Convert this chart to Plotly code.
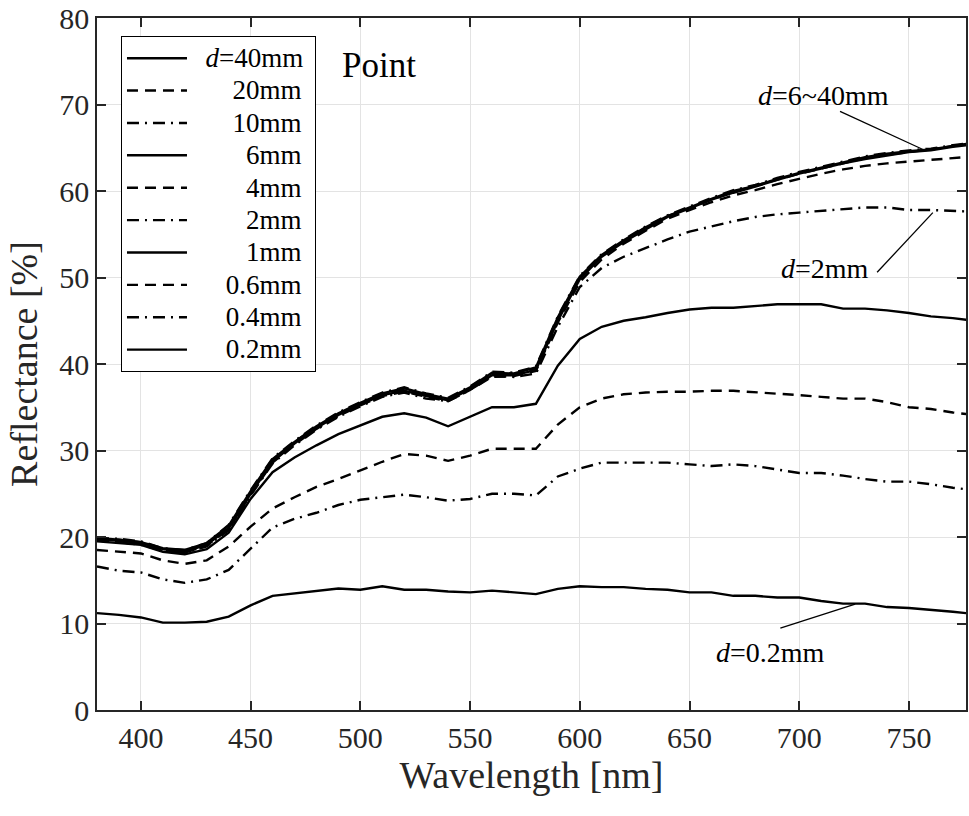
import plotly.graph_objects as go

wavelength = list(range(380, 790, 10))

d40 = [19.9, 19.7, 19.4, 18.7, 18.5, 19.3, 21.3, 25.3, 29.0, 31.0, 32.8, 34.3, 35.5, 36.6, 37.2, 36.5, 36.0, 37.3, 39.0, 38.9,
       39.6, 45.4, 50.1, 52.6, 54.3, 55.8, 57.1, 58.1, 59.1, 60.0, 60.6, 61.4, 62.1, 62.7, 63.3, 63.9, 64.3, 64.6, 64.8, 65.2, 65.6]
d20 = [19.8, 19.7, 19.4, 18.6, 18.4, 19.2, 21.2, 25.1, 28.9, 31.0, 32.7, 34.2, 35.4, 36.5, 37.0, 36.4, 35.9, 37.2, 38.8, 38.8,
       39.4, 45.2, 50.0, 52.5, 54.2, 55.8, 57.1, 58.0, 59.0, 59.9, 60.6, 61.3, 62.0, 62.6, 63.2, 63.8, 64.2, 64.5, 64.8, 65.2, 65.5]
d10 = [19.9, 19.8, 19.5, 18.7, 18.5, 19.3, 21.4, 25.4, 29.1, 31.1, 32.9, 34.4, 35.6, 36.7, 37.3, 36.6, 36.1, 37.4, 39.1, 39.0,
       39.7, 45.5, 50.2, 52.7, 54.4, 55.9, 57.2, 58.2, 59.2, 60.1, 60.7, 61.5, 62.2, 62.8, 63.4, 64.0, 64.4, 64.7, 64.9, 65.3, 65.6]
d6 = [19.7, 19.6, 19.3, 18.6, 18.3, 19.1, 21.0, 25.0, 28.7, 30.8, 32.6, 34.1, 35.3, 36.4, 36.9, 36.3, 35.8, 37.1, 38.7, 38.7,
      39.3, 45.0, 49.8, 52.4, 54.1, 55.6, 57.0, 58.0, 59.0, 59.8, 60.5, 61.3, 62.0, 62.6, 63.2, 63.7, 64.1, 64.5, 64.7, 65.1, 65.4]
d4 = [19.6, 19.5, 19.2, 18.5, 18.2, 19.0, 20.9, 24.9, 28.6, 30.7, 32.5, 34.0, 35.2, 36.3, 36.8, 36.2, 35.7, 37.0, 38.5, 38.6,
      39.2, 44.8, 49.5, 52.1, 53.9, 55.4, 56.8, 57.8, 58.7, 59.5, 60.1, 60.8, 61.4, 62.0, 62.5, 62.9, 63.2, 63.4, 63.6, 63.8, 64.0]
d2 = [19.6, 19.4, 19.1, 18.4, 18.2, 18.9, 20.8, 24.8, 28.5, 30.6, 32.4, 33.9, 35.1, 36.2, 36.7, 36.0, 35.7, 37.0, 38.6, 38.5,
      38.9, 44.3, 48.9, 51.1, 52.4, 53.4, 54.4, 55.3, 55.9, 56.5, 57.0, 57.3, 57.5, 57.7, 57.9, 58.1, 58.1, 57.8, 57.8, 57.7, 57.6]
d1 = [19.5, 19.3, 19.1, 18.3, 18.0, 18.6, 20.5, 24.4, 27.5, 29.2, 30.6, 31.9, 32.9, 33.9, 34.3, 33.8, 32.8, 33.9, 35.0, 35.0,
      35.4, 39.8, 42.9, 44.3, 45.0, 45.4, 45.9, 46.3, 46.5, 46.5, 46.7, 46.9, 46.9, 46.9, 46.4, 46.4, 46.2, 45.9, 45.5, 45.3, 45.0]
d06 = [18.5, 18.3, 18.1, 17.3, 16.9, 17.3, 18.9, 21.2, 23.3, 24.6, 25.8, 26.7, 27.7, 28.7, 29.6, 29.4, 28.8, 29.4, 30.2, 30.2,
       30.2, 33.0, 35.0, 36.0, 36.5, 36.7, 36.8, 36.8, 36.9, 36.9, 36.75, 36.6, 36.4, 36.2, 36.0, 36.0, 35.6, 35.0, 34.8, 34.4, 34.1]
d04 = [16.6, 16.1, 15.9, 15.1, 14.7, 15.1, 16.2, 18.7, 21.1, 22.1, 22.8, 23.7, 24.3, 24.6, 24.9, 24.6, 24.2, 24.4, 25.0, 25.0,
       24.8, 27.0, 27.9, 28.6, 28.6, 28.6, 28.6, 28.4, 28.2, 28.4, 28.2, 27.8, 27.4, 27.4, 27.1, 26.7, 26.4, 26.4, 26.1, 25.7, 25.4]
d02 = [11.2, 11.0, 10.7, 10.1, 10.1, 10.2, 10.8, 12.1, 13.2, 13.5, 13.8, 14.05, 13.9, 14.3, 13.9, 13.9, 13.7, 13.6, 13.8, 13.6,
       13.4, 14.0, 14.3, 14.2, 14.2, 14.0, 13.9, 13.6, 13.6, 13.2, 13.2, 13.0, 13.0, 12.6, 12.3, 12.3, 11.9, 11.8, 11.6, 11.35, 11.1]

series = [d40, d20, d10, d6, d4, d2, d1, d06, d04, d02]
nb = "\u00a0"
labels = ["<i>d</i>=40mm", nb * 4 + "20mm", nb * 4 + "10mm", nb * 6 + "6mm", nb * 6 + "4mm",
          nb * 6 + "2mm", nb * 6 + "1mm", nb * 3 + "0.6mm", nb * 3 + "0.4mm", nb * 3 + "0.2mm"]
DASH = "11px,7px"
DASHDOT = "12px,6px,2px,6px"
dashes = ["solid", DASH, DASHDOT] * 3 + ["solid"]

FONT = "'Liberation Serif', 'Times New Roman', serif"
INK = "#262626"

fig = go.Figure()
for y, name, dash in zip(series, labels, dashes):
    fig.add_trace(go.Scatter(x=wavelength, y=y, mode="lines",
                             name="<span style='font-size:27px'>" + nb * 2 + name + nb + "</span>",
                             line=dict(color="black", width=2.4, dash=dash)))

axis_common = dict(showline=True, linecolor=INK, linewidth=1.5, mirror="allticks",
                   ticks="inside", ticklen=9, tickwidth=1.5, tickcolor=INK,
                   showgrid=True, gridcolor="#e3e3e3", gridwidth=1, zeroline=False,
                   tickfont=dict(family=FONT, size=30, color=INK))

fig.update_xaxes(range=[380, 776], tick0=400, dtick=50,
                 title=dict(text="Wavelength [nm]", font=dict(family=FONT, size=38, color=INK), standoff=8),
                 **axis_common)
fig.update_yaxes(range=[0, 80], tick0=0, dtick=10,
                 title=dict(text="Reflectance [%]", font=dict(family=FONT, size=38, color=INK), standoff=10),
                 **axis_common)

ann_font = dict(family=FONT, size=28, color="black")
fig.add_annotation(x=710.9, y=71.0, text="<i>d</i>=6~40mm", showarrow=False, font=ann_font)
fig.add_annotation(x=711.8, y=51.0, text="<i>d</i>=2mm", showarrow=False, font=ann_font)
fig.add_annotation(x=686.8, y=6.7, text="<i>d</i>=0.2mm", showarrow=False, font=ann_font)
fig.add_annotation(x=0.325, y=0.931, xref="paper", yref="paper", xanchor="center", yanchor="middle",
                   text="Point", showarrow=False, font=dict(family=FONT, size=35, color="black"))

for x0, y0, x1, y1 in [(718.6, 69.2, 756.4, 64.8), (735.5, 50.6, 760.9, 57.5), (691.4, 9.47, 725.5, 12.24)]:
    fig.add_shape(type="line", x0=x0, y0=y0, x1=x1, y1=y1, xref="x", yref="y",
                  line=dict(color="black", width=1.3))

fig.update_layout(
    width=969, height=816,
    margin=dict(l=97, r=1, t=17, b=106),
    plot_bgcolor="white", paper_bgcolor="white",
    font=dict(family=FONT, color="black"),
    legend=dict(x=0.0276, y=0.974, xanchor="left", yanchor="top",
                bgcolor="white", bordercolor="black", borderwidth=1,
                font=dict(family=FONT, size=22.6, color="black"),
                tracegroupgap=0, itemwidth=60),
)

fig.write_html("out.html")
